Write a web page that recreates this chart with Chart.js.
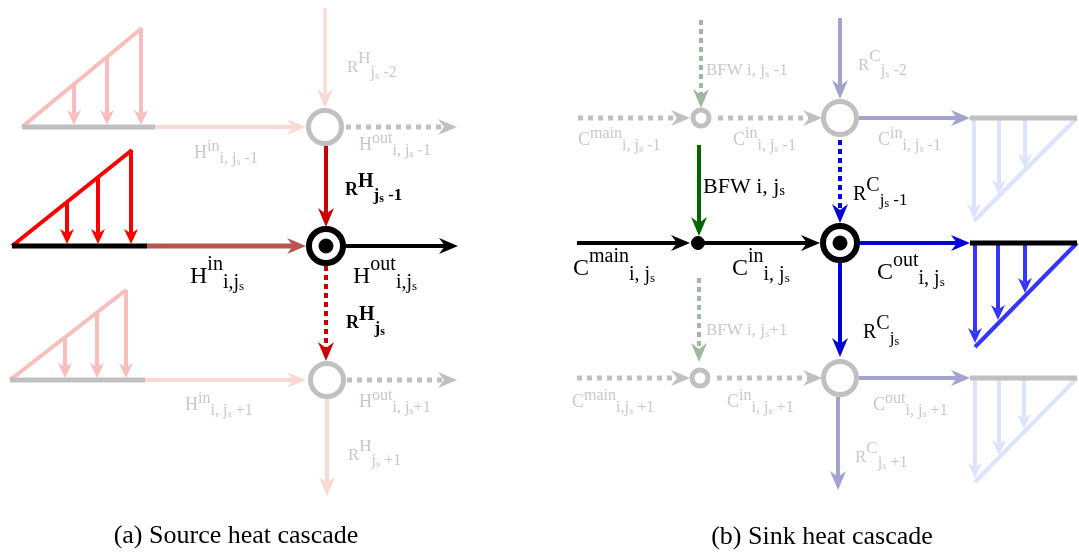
<!DOCTYPE html>
<html>
<head>
<meta charset="utf-8">
<script src="https://cdn.jsdelivr.net/npm/chart.js@4/dist/chart.umd.min.js"></script>
<style>html,body{margin:0;background:#fff}</style>
</head>
<body>
<canvas id="cascade" width="1079" height="554"></canvas>
<script>
// diagram units: x 0..1079 left->right, y 0..554 top->down

// nodes
const ringNodes = [[325,127],[327,380],[840,118],[840,378]]
const smallRingNodes = [[701,118],[700,378]]
const activeNodes = [[326,246],[840,243]]
const mixNodes = [[698,243]]

// edges: [kind, x1, y1, x2, y2]
const sourceEdges = [
  ['gBase',22,127,155,127], ['pinkTri',22,127,142,28],
  ['pinkTriA',74,84,74,125], ['pinkTriA',107,57,107,125], ['pinkTriA',141,28,141,125],
  ['paleA',155,127,306,127], ['paleThinA',325,8,325,108], ['grayDotA',346,127,457,127],
  ['kBase',12,246,147,246], ['redTri',12,246,132,150],
  ['redTriA',67,202,67,244], ['redTriA',98,177,98,244], ['redTriA',131,150,131,244],
  ['brownA',147,246,306,246], ['blackA',345,246,458,246],
  ['redA',326,143,326,227], ['redDotA',326,266,326,361],
  ['gBase',10,380,145,380], ['pinkTri',10,380,126,290],
  ['pinkTriA',65,337,65,378], ['pinkTriA',97,313,97,378], ['pinkTriA',126,290,126,378],
  ['paleA',145,380,306,380], ['grayDotA',347,380,457,380], ['paleA',327,399,327,496]
]
const sinkEdges = [
  ['grayDotA',578,118,690,118], ['grayDotA',718,118,822,118], ['lavA',859,118,970,118],
  ['gBase',970,118,1077,118], ['skyTri',1077,118,974,221],
  ['skyTriA',974,118,974,219], ['skyTriA',999,118,999,195], ['skyTriA',1025,118,1025,169],
  ['greenDotA',701,20,701,108], ['lavA',840,18,840,99],
  ['blackA',577,243,690,243], ['blackA',704,243,820,243], ['blueA',859,243,970,243],
  ['kBase',970,243,1077,243], ['royalTri',1077,243,975,347],
  ['royalTriA',975,243,975,343], ['royalTriA',998,243,998,320], ['royalTriA',1025,243,1025,293],
  ['greenA',699,145,699,236], ['blueDotA',840,140,840,223],
  ['blueA',840,263,840,357], ['greenDotA',699,278,699,362],
  ['grayDotA',577,378,690,378], ['grayDotA',717,378,822,378], ['lavA',859,378,970,378],
  ['gBase',970,378,1077,378], ['skyTri',1077,378,975,482],
  ['skyTriA',975,378,975,478], ['skyTriA',999,378,999,455], ['skyTriA',1024,378,1024,429],
  ['lavA',838,397,838,490]
]

// labels: [markup, x, baseline, tone]   ^{} sup, _{} sub, ~{} small index
const sourceLabels = [
  ['R^{H}_{j}~{s}_{ -2}', 347, 72, 'faintR'],
  ['H^{in}_{i, j}~{s}_{ -1}', 194, 158, 'faint'],
  ['H^{out}_{i, j}~{s}_{ -1}', 359, 150, 'faint'],
  ['R^{H}_{j}~{s}_{ -1}', 345, 195, 'boldR'],
  ['H^{in}_{i,j}~{s}', 190, 283, 'main'],
  ['H^{out}_{i,j}~{s}', 353, 283, 'main'],
  ['R^{H}_{j}~{s}', 346, 328, 'boldR'],
  ['H^{in}_{i, j}~{s}_{ +1}', 185, 410, 'faint'],
  ['H^{out}_{i, j}~{s}_{+1}', 359, 407, 'faint'],
  ['R^{H}_{j}~{s}_{ +1}', 348, 460, 'faintR']
]
const sinkLabels = [
  ['BFW i, j~{s} -1', 706, 75, 'faintPlain'],
  ['R^{C}_{j}~{s}_{ -2}', 858, 70, 'faintR'],
  ['C^{main}_{i, j}~{s}_{ -1}', 578, 145, 'faint'],
  ['C^{in}_{i, j}~{s}_{ -1}', 733, 145, 'faint'],
  ['C^{in}_{i, j}~{s}_{ -1}', 878, 145, 'faint'],
  ['BFW i, j~{s}', 703, 193, 'mainPlain'],
  ['R^{C}_{j}~{s}_{ -1}', 853, 200, 'regR'],
  ['C^{main}_{i, j}~{s}', 573, 275, 'main'],
  ['C^{in}_{i, j}~{s}', 732, 275, 'main'],
  ['C^{out}_{i, j}~{s}', 877, 279, 'main'],
  ['R^{C}_{j}~{s}', 863, 338, 'regR'],
  ['BFW i, j~{s}+1', 706, 335, 'faintPlain'],
  ['C^{main}_{i,j}~{s}_{ +1}', 572, 407, 'faint'],
  ['C^{in}_{i, j}~{s}_{ +1}', 727, 407, 'faint'],
  ['C^{out}_{i, j}~{s}_{ +1}', 873, 410, 'faint'],
  ['R^{C}_{j}~{s}_{ +1}', 855, 462, 'faintR']
]
const captions = [
  ['(a) Source heat cascade', 236, 543, 'caption'],
  ['(b) Sink heat cascade', 822, 544, 'caption']
]

const kinds = {
  gBase:     { color: '#c0c0c0', width: 5 },
  kBase:     { color: '#000000', width: 5 },
  pinkTri:   { color: '#f9bdbb', width: 4 },
  pinkTriA:  { color: '#f9bdbb', width: 4, head: 'small' },
  redTri:    { color: '#ff0000', width: 4 },
  redTriA:   { color: '#ff0000', width: 4, head: 'small' },
  paleA:     { color: '#fad8d4', width: 4, head: 'big' },
  paleThinA: { color: '#fad8d4', width: 3, head: 'big' },
  grayDotA:  { color: '#c0c0c0', width: 5, dash: [5, 5], head: 'big' },
  brownA:    { color: '#b85450', width: 5, head: 'big' },
  blackA:    { color: '#000000', width: 4, head: 'big' },
  redA:      { color: '#cc0000', width: 4, head: 'big' },
  redDotA:   { color: '#cc0000', width: 4, dash: [5, 4], head: 'big' },
  greenDotA: { color: '#a2b7a2', width: 4, dash: [5, 4], head: 'big' },
  greenA:    { color: '#006600', width: 4, head: 'big' },
  lavA:      { color: '#a3a3cf', width: 4, head: 'big' },
  blueA:     { color: '#0000d8', width: 4, head: 'big' },
  blueDotA:  { color: '#0000dd', width: 4, dash: [5, 4], head: 'big' },
  skyTri:    { color: '#dbe3fd', width: 4 },
  skyTriA:   { color: '#dbe3fd', width: 4, head: 'small' },
  royalTri:  { color: '#3535ff', width: 4 },
  royalTriA: { color: '#3535ff', width: 4, head: 'small' }
}
const heads = { big: { len: 19, half: 8, notch: 6 }, small: { len: 15, half: 7, notch: 4.5 } }

const tones = {
  faint:      { color: '#c8c8c8', b: 18, sup: 16, sub: 16, ss: 11, supDy: -7, subDy: 5 },
  faintR:     { color: '#c8c8c8', b: 17, sup: 17, sub: 16, ss: 11, supDy: -9, subDy: 5 },
  faintPlain: { color: '#c8c8c8', b: 17, sup: 17, sub: 17, ss: 11, supDy: 0, subDy: 0 },
  main:       { color: '#000', b: 24, sup: 20, sub: 20, ss: 13, supDy: -13, subDy: 5 },
  mainPlain:  { color: '#000', b: 22, sup: 22, sub: 22, ss: 14, supDy: 0, subDy: 0 },
  boldR:      { color: '#000', b: 18, sup: 20, sub: 17, ss: 12, supDy: -8, subDy: 5, bold: true },
  regR:       { color: '#000', b: 20, sup: 20, sub: 17, ss: 12, supDy: -9, subDy: 5 },
  caption:    { color: '#000', b: 26, center: true }
}
const FONT = '"Liberation Serif", "DejaVu Serif", serif'

function edgeDataset(e) {
  const [kind, x1, y1, x2, y2] = e
  const k = kinds[kind]
  let ex = x2, ey = y2
  if (k.head) {
    const d = Math.hypot(x2 - x1, y2 - y1)
    ex = x2 - (x2 - x1) / d * 11
    ey = y2 - (y2 - y1) / d * 11
  }
  return {
    data: [{ x: x1, y: y1 }, { x: ex, y: ey }],
    tip: k.head ? { x: x2, y: y2 } : null,
    head: k.head,
    showLine: true,
    borderColor: k.color,
    backgroundColor: k.color,
    borderWidth: k.width,
    borderDash: k.dash || [],
    pointRadius: 0,
    clip: false,
    order: 1
  }
}

function nodeDataset(list, r, border, fill, bw, order) {
  return {
    data: list.map(p => ({ x: p[0], y: p[1] })),
    showLine: false,
    pointRadius: r,
    pointBorderWidth: bw,
    pointBorderColor: border,
    pointBackgroundColor: fill,
    clip: false,
    order: order
  }
}

const arrowPlugin = {
  id: 'arrows',
  afterDatasetsDraw(chart) {
    const ctx = chart.ctx, xs = chart.scales.x, ys = chart.scales.y
    chart.data.datasets.forEach(ds => {
      if (!ds.tip) return
      const h = heads[ds.head]
      const sx = xs.getPixelForValue(ds.data[0].x), sy = ys.getPixelForValue(ds.data[0].y)
      const tx = xs.getPixelForValue(ds.tip.x), ty = ys.getPixelForValue(ds.tip.y)
      const a = Math.atan2(ty - sy, tx - sx)
      ctx.save()
      ctx.translate(tx, ty)
      ctx.rotate(a)
      ctx.beginPath()
      ctx.moveTo(0, 0)
      ctx.lineTo(-h.len, -h.half)
      ctx.lineTo(-h.len + h.notch, 0)
      ctx.lineTo(-h.len, h.half)
      ctx.closePath()
      ctx.fillStyle = ds.borderColor
      ctx.fill()
      ctx.restore()
    })
  }
}

function parseMarkup(s) {
  const parts = []
  const re = /([\^_~])\{([^}]*)\}|([^\^_~]+)/g
  let m
  while ((m = re.exec(s))) {
    if (m[3]) parts.push(['base', m[3]])
    else parts.push([{ '^': 'sup', '_': 'sub', '~': 'ss' }[m[1]], m[2]])
  }
  return parts
}

const textPlugin = {
  id: 'texts',
  afterDraw(chart) {
    const ctx = chart.ctx, xs = chart.scales.x, ys = chart.scales.y
    const all = sourceLabels.concat(sinkLabels, captions)
    all.forEach(([markup, x, y, toneName]) => {
      const t = tones[toneName]
      const w = t.bold ? 'bold ' : ''
      let px = xs.getPixelForValue(x)
      const py = ys.getPixelForValue(y)
      ctx.save()
      ctx.fillStyle = t.color
      ctx.textBaseline = 'alphabetic'
      if (t.center) {
        ctx.font = w + t.b + 'px ' + FONT
        ctx.textAlign = 'center'
        ctx.fillText(markup, px, py)
        ctx.restore()
        return
      }
      ctx.textAlign = 'left'
      let prevDy = 0
      parseMarkup(markup).forEach(([lvl, txt]) => {
        let size = t.b, dy = 0
        if (lvl === 'sup') { size = t.sup; dy = t.supDy }
        else if (lvl === 'sub') { size = t.sub; dy = t.subDy }
        else if (lvl === 'ss') { size = t.ss; dy = prevDy + 2 }
        ctx.font = w + size + 'px ' + FONT
        ctx.fillText(txt, px, py + dy)
        px += ctx.measureText(txt).width
        if (lvl !== 'ss') prevDy = dy
      })
      ctx.restore()
    })
  }
}

const datasets = [
  nodeDataset(mixNodes, 6.5, '#000', '#000', 1, -3),
  nodeDataset(activeNodes, 7, '#000', '#000', 1, -3),
  nodeDataset(activeNodes, 17, '#000', '#fff', 6, -2),
  nodeDataset(ringNodes, 16.5, '#c0c0c0', '#fff', 5, -2),
  nodeDataset(smallRingNodes, 8, '#c0c0c0', '#fff', 5, -2)
].concat(sourceEdges.map(edgeDataset), sinkEdges.map(edgeDataset))

new Chart(document.getElementById('cascade'), {
  type: 'scatter',
  data: { datasets: datasets },
  options: {
    responsive: false,
    animation: false,
    events: [],
    layout: { padding: 0, autoPadding: false },
    plugins: { legend: { display: false }, tooltip: { enabled: false } },
    scales: {
      x: { type: 'linear', min: 0, max: 1079, display: false },
      y: { type: 'linear', min: 0, max: 554, reverse: true, display: false }
    }
  },
  plugins: [arrowPlugin, textPlugin]
})
</script>
</body>
</html>
